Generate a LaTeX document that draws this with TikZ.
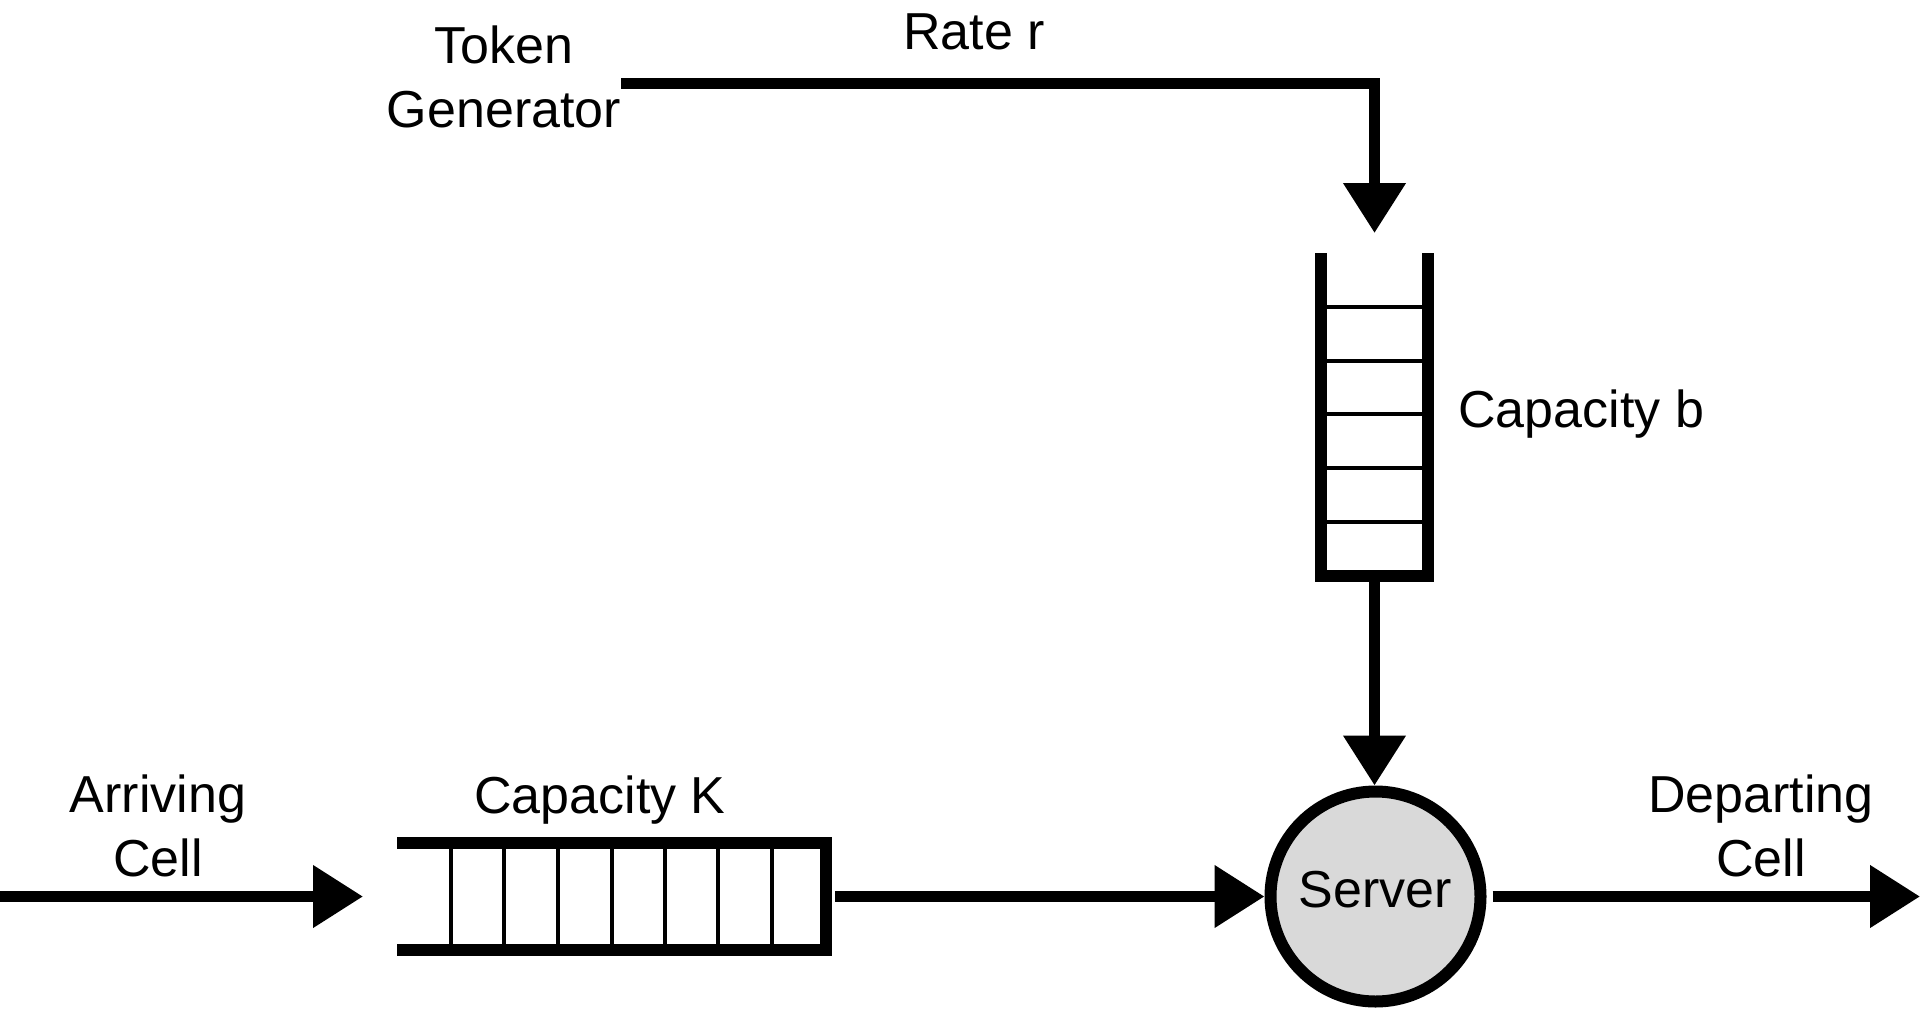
\documentclass[tikz,border=0pt]{standalone}
\usepackage{fontspec}
\setmainfont{Liberation Sans}
\usetikzlibrary{arrows.meta}
\begin{document}
\begin{tikzpicture}[x=0.5pt,y=-0.5pt,
  conn/.style={line width=5.5pt, -{Triangle[length=25pt,width=30pt]}},
  wall/.style={line width=6pt, line join=miter},
  slot/.style={line width=2pt},
  lbl/.style={font=\fontsize{26}{32}\selectfont, inner sep=0pt, align=center},
  box/.style={inner sep=0pt, outer sep=0pt, draw=none}
]
\useasboundingbox (0,0) rectangle (1920,1011);

% outer extents of the two buffers, used for the connectors
\node[box, minimum width=59.5pt, minimum height=164.25pt] (bq) at (1374.5,417.25) {};
\node[box, minimum width=217.5pt, minimum height=59.5pt] (kq) at (614.5,896.5) {};

% token bucket (vertical buffer)
\draw[wall] (1321,253) -- (1321,575.5) -- (1428,575.5) -- (1428,253);
\foreach \y in {307,361,414,468,522}
  \draw[slot] (1327,\y) -- (1422,\y);

% cell buffer (horizontal buffer)
\draw[wall] (397,842.5) -- (826,842.5) -- (826,949.5) -- (397,949.5);
\foreach \x in {451,504,558,612,665,718,772}
  \draw[slot] (\x,848) -- (\x,944);

% server
\node[circle, draw, line width=6pt, fill=gray!30, minimum size=105pt, inner sep=0pt,
      font=\fontsize{26}{32}\selectfont, text height=11pt, text depth=0pt]
  (srv) at (1375.5,896.5) {Server};

% labels
\node[lbl, anchor=south] (tg) at (504,128) {Token\\Generator};
\node[lbl, anchor=base] (rate) at (974,50) {Rate r};
\node[lbl, anchor=base west] (capb) at (1458,427) {Capacity b};
\node[lbl, anchor=base] (capk) at (600,813) {Capacity K};
\node[lbl, anchor=south] (arr) at (158,877) {Arriving\\Cell};
\node[lbl, anchor=south] (dep) at (1761,877) {Departing\\Cell};

% free ends of the cell flow
\coordinate (src) at (0,896.5);
\coordinate (sink) at (1920,896.5);

% connectors
\draw[conn] (tg.east |- 0,84) -| ([yshift=10pt]bq.north);
\draw[conn] (bq.south) -- (bq.south |- srv.north);
\draw[conn] (src) -- ([xshift=-17pt]kq.west);
\draw[conn] ([xshift=1.5pt]kq.east) -- (kq.east -| srv.west);
\draw[conn] ([xshift=3pt]srv.east) -- (sink);
\end{tikzpicture}
\end{document}
